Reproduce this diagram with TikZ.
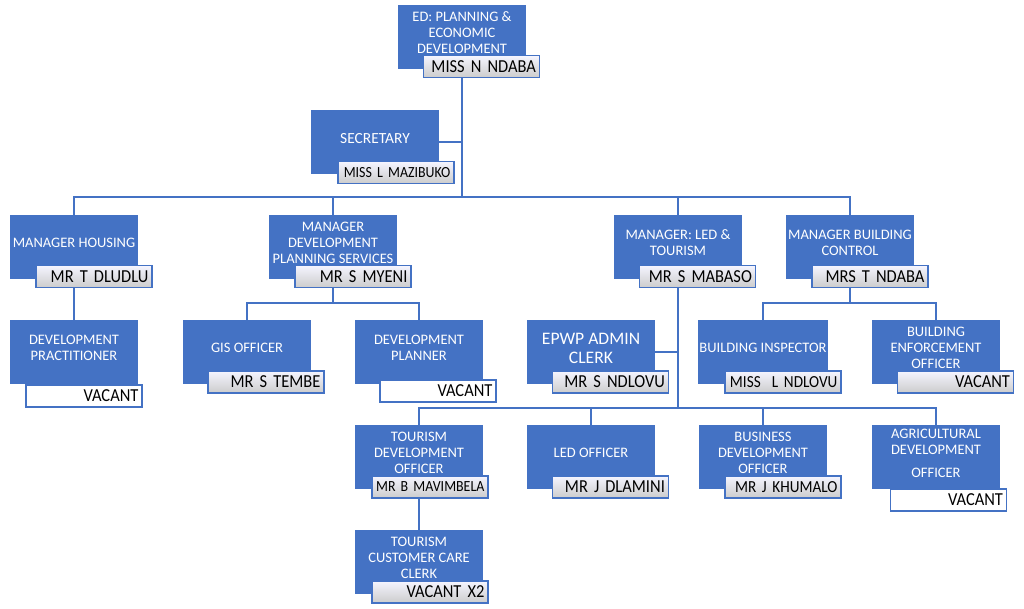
\documentclass[tikz,border=0pt]{standalone}
\usepackage{fontspec}
\setmainfont{Carlito}
\newfontfamily\namefont[FakeStretch=0.9]{Carlito}
\usetikzlibrary{positioning}
\definecolor{orgblue}{HTML}{4472C4}

\begin{document}
\begin{tikzpicture}[x=0.025cm,y=-0.025cm,
    post/.style={fill=orgblue, text=white, minimum width=3.175cm, minimum height=1.6cm,
      inner sep=1pt, align=center, text depth=0.2cm, font=\fontsize{10.3}{11.4}\selectfont},
    holder/.style={draw=orgblue, line width=0.8pt, top color=blue!4, bottom color=gray!40,
      minimum width=2.9cm, minimum height=0.55cm, inner xsep=2.5pt, inner ysep=0pt,
      text width=2.72cm, align=right, font=\namefont\fontsize{13}{14}\selectfont},
    vacant/.style={holder, top color=white, bottom color=white},
    link/.style={draw=orgblue, line width=1.1pt}]
    \useasboundingbox (0,0) rectangle (1024,608);

    % posts
    \node[post] (ED) at (462,37) {ED: PLANNING \&\\ECONOMIC\\DEVELOPMENT};
    \node[post,font=\fontsize{11}{12}\selectfont] (SEC) at (375,142) {SECRETARY};

    \node[post] (HOU) at (74,247) {MANAGER HOUSING};
    \node[post] (DPS) at (333,247) {MANAGER\\DEVELOPMENT\\PLANNING SERVICES};
    \node[post] (LED) at (678,247) {MANAGER: LED \&\\TOURISM};
    \node[post] (BLD) at (850,247) {MANAGER BUILDING\\CONTROL};

    \node[post] (PRA) at (74,352) {DEVELOPMENT\\PRACTITIONER};
    \node[post] (GIS) at (247,352) {GIS OFFICER};
    \node[post] (PLN) at (419,352) {DEVELOPMENT\\PLANNER};
    \node[post,font=\fontsize{12.5}{13.5}\selectfont] (EPW) at (591,352) {EPWP ADMIN\\CLERK};
    \node[post] (INS) at (763,352) {BUILDING INSPECTOR};
    \node[post] (ENF) at (936,352) {BUILDING\\ENFORCEMENT\\OFFICER};

    \node[post] (TDO) at (419,457) {TOURISM\\DEVELOPMENT\\OFFICER};
    \node[post] (LEO) at (591,457) {LED OFFICER};
    \node[post] (BDO) at (763,457) {BUSINESS\\DEVELOPMENT\\OFFICER};
    \node[post] (AGR) at (936,457) {AGRICULTURAL\\DEVELOPMENT\\[5pt]OFFICER};
    \node[post] (TCC) at (419,562) {TOURISM\\CUSTOMER CARE\\CLERK};

    %%%%%%%%%%%%%%%%%%%%%%%%%%%%%%

    \coordinate (mainbus) at (462,197);
    \coordinate (dpbus) at (333,303);
    \coordinate (bcbus) at (850,303);
    \coordinate (ledbus) at (678,408);

    \draw[link] (ED |- 0,77) -- (mainbus);
    \draw[link] (SEC.east) -- (SEC.east -| mainbus);
    \draw[link] (HOU.north) |- (mainbus) -| (BLD.north);
    \draw[link] (DPS.north) -- (DPS |- mainbus);
    \draw[link] (LED.north) -- (LED |- mainbus);

    \draw[link] (HOU.south) -- (PRA.north);
    \draw[link] (DPS.south) -- (dpbus);
    \draw[link] (GIS.north) |- (dpbus) -| (PLN.north);

    \draw[link] (LED.south) -- (ledbus);
    \draw[link] (EPW.east) -- (EPW.east -| ledbus);
    \draw[link] (TDO.north) |- (ledbus) -| (AGR.north);
    \draw[link] (LEO.north) -- (LEO |- ledbus);
    \draw[link] (BDO.north) -- (BDO |- ledbus);
    \draw[link] (TDO.south) -- (TCC.north);

    \draw[link] (BLD.south) -- (bcbus);
    \draw[link] (INS.north) |- (bcbus) -| (ENF.north);

    %%%%%%%%%%%%%%%%%%%%%%%%%%%%%%

    % post holders
    \node[holder] (EDn) at (481.5,66.5) {MISS N NDABA};
    \node[holder,font=\namefont\fontsize{11}{12}\selectfont] (SECn) at (396,172.5) {MISS L MAZIBUKO};
    \node[holder] (HOUn) at (94,276.5) {MR T DLUDLU};
    \node[holder] (DPSn) at (353,276.5) {MR S MYENI};
    \node[holder] (LEDn) at (697.5,276.5) {MR S MABASO};
    \node[holder] (BLDn) at (870,276.5) {MRS T NDABA};

    \node[vacant] (PRAn) at (84,396) {VACANT};
    \node[holder] (GISn) at (266,382) {MR S TEMBE};
    \node[vacant] (PLNn) at (438,391) {VACANT};
    \node[holder] (EPWn) at (610.5,382) {MR S NDLOVU};
    \node[holder,font=\namefont\fontsize{12}{13}\selectfont] (INSn) at (783,382) {MISS\ \ L NDLOVU};
    \node[holder] (ENFn) at (955.5,382) {VACANT};

    \node[holder,font=\namefont\fontsize{11}{12}\selectfont] (TDOn) at (430,487) {MR B MAVIMBELA};
    \node[holder] (LEOn) at (610.5,487) {MR J DLAMINI};
    \node[holder,font=\namefont\fontsize{12}{13}\selectfont] (BDOn) at (783,487) {MR J KHUMALO};
    \node[vacant] (AGRn) at (948.5,500) {VACANT};
    \node[holder] (TCCn) at (430,592) {VACANT X2};

\end{tikzpicture}
\end{document}
